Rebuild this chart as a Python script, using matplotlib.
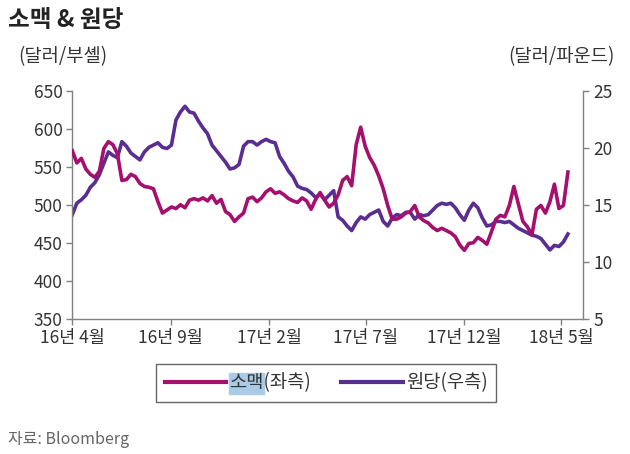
import matplotlib
matplotlib.use("Agg")
import matplotlib.pyplot as plt
from matplotlib.patches import Rectangle
from matplotlib.font_manager import FontProperties
import pandas as pd

plt.rcParams['font.family'] = ['Noto Sans CJK KR', 'DejaVu Sans']

# weekly observations, Apr 2016 - May 2018
dates = pd.date_range("2016-04-01", periods=111, freq="7D")

wheat = [572, 556, 562, 548, 541, 537, 545, 575, 584, 580,
         568, 533, 534, 541, 538, 529, 525, 524, 522, 505,
         490, 494, 498, 496, 501, 497, 507, 509, 507, 510,
         506, 513, 503, 508, 492, 488, 479, 485, 490, 509,
         511, 505, 510, 518, 522, 516, 518, 514, 509, 506,
         504, 510, 506, 495, 508, 517, 507, 498, 503, 514,
         533, 538, 526, 580, 603, 578, 563, 553, 539, 522,
         500, 482, 482, 485, 490, 492, 500, 485, 480, 477,
         471, 467, 470, 467, 464, 459, 448, 441, 450, 451,
         458, 454, 449, 465, 482, 487, 485, 500, 525, 502,
         479, 472, 461, 495, 500, 490, 505, 528, 496, 500,
         544]

sugar = [14.2, 15.2, 15.5, 15.9, 16.6, 17.0, 17.7, 18.7, 19.7, 19.4,
         19.2, 20.6, 20.2, 19.6, 19.3, 19.0, 19.7, 20.1, 20.3, 20.5,
         20.1, 20.0, 20.3, 22.5, 23.2, 23.7, 23.2, 23.1, 22.4, 21.8,
         21.3, 20.3, 19.8, 19.3, 18.8, 18.2, 18.3, 18.6, 20.2, 20.6,
         20.6, 20.3, 20.6, 20.8, 20.6, 20.5, 19.3, 18.7, 18.0, 17.5,
         16.7, 16.5, 16.4, 16.1, 15.7, 16.0, 15.5, 15.9, 16.3, 14.0,
         13.7, 13.2, 12.8, 13.5, 14.0, 13.8, 14.2, 14.4, 14.6, 13.6,
         13.2, 13.9, 14.2, 14.1, 14.4, 14.4, 13.8, 14.2, 14.1, 14.2,
         14.6, 15.0, 15.2, 15.1, 15.2, 14.8, 14.2, 13.7, 14.6, 15.2,
         14.8, 13.9, 13.2, 13.3, 13.6, 13.6, 13.5, 13.6, 13.3, 13.0,
         12.8, 12.6, 12.4, 12.3, 12.1, 11.6, 11.1, 11.5, 11.4, 11.8,
         12.5]

tick_dates = ["2016-04-01", "2016-09-01", "2017-02-01", "2017-07-01", "2017-12-01", "2018-05-01"]
tick_labels = ["16년 4월", "16년 9월", "17년 2월", "17년 7월", "17년 12월", "18년 5월"]
series_labels = ["소맥(좌측)", "원당(우측)"]

wheat_color = "#A5106E"
sugar_color = "#5A2D91"
axis_color = "#808080"
text_color = "#333333"

fig = plt.figure(figsize=(6.3, 4.54), dpi=100)
ax = fig.add_axes([0.1148, 0.2963, 0.8112, 0.5022])
ax2 = ax.twinx()

ax.plot(dates, wheat, color=wheat_color, lw=2.6, zorder=3)
ax2.plot(dates, sugar, color=sugar_color, lw=2.6, zorder=2)
ax.set_zorder(ax2.get_zorder() + 1)
ax.patch.set_visible(False)

ax.set_ylim(350, 650)
ax.set_yticks(range(350, 651, 50))
ax2.set_ylim(5, 25)
ax2.set_yticks(range(5, 26, 5))
ax.set_xlim(pd.Timestamp("2016-04-01"), pd.Timestamp("2018-06-04"))
ax.set_xticks(pd.to_datetime(tick_dates))
ax.set_xticklabels(tick_labels)

for a in (ax, ax2):
    a.spines['top'].set_visible(False)
    for s in ('left', 'right', 'bottom'):
        a.spines[s].set_color(axis_color)
        a.spines[s].set_linewidth(1.0)
    a.tick_params(axis='both', direction='out', length=4, width=1.0,
                  color=axis_color, labelsize=12.5, labelcolor=text_color, pad=3)
ax.spines['right'].set_visible(False)
ax2.spines['left'].set_visible(False)
ax2.spines['bottom'].set_visible(False)

fig.text(8/630, 1 - 20/454, "소맥 & 원당", fontsize=17, fontweight='bold',
         color="#222222", va='center', ha='left')
fig.text(18/630, 1 - 57/454, "(달러/부셸)", fontsize=13.5, color=text_color,
         va='center', ha='left')
fig.text(615/630, 1 - 57/454, "(달러/파운드)", fontsize=13.5, color=text_color,
         va='center', ha='right')
fig.text(8/630, 1 - 439/454, "자료: Bloomberg", fontsize=11.5, color="#666666",
         va='center', ha='left')

h1, = ax.plot([], [], color=wheat_color, lw=3)
h2, = ax.plot([], [], color=sugar_color, lw=3)
leg = fig.legend([h1, h2], series_labels, loc='center',
                 bbox_to_anchor=(326/630, 1 - 383/454), ncol=2, fontsize=13.5,
                 frameon=True, fancybox=False, edgecolor="#404040",
                 facecolor='none', handlelength=3.3,
                 handletextpad=0.15, columnspacing=1.6, borderpad=0.45,
                 borderaxespad=0)
leg.set_zorder(5)
leg.get_frame().set_linewidth(1.0)
for t in leg.get_texts():
    t.set_color(text_color)

# selection highlight behind "소맥" in the legend
fig.canvas.draw()
renderer = fig.canvas.get_renderer()
t0 = leg.get_texts()[0]
bb = t0.get_window_extent(renderer)
fp = FontProperties(family=['Noto Sans CJK KR', 'DejaVu Sans'], size=13.5)
w, h, d = renderer.get_text_width_height_descent(series_labels[0][:2], fp, ismath=False)
fig.patches.append(Rectangle((bb.x0 / fig.bbox.width, bb.y0 / fig.bbox.height),
                             w / fig.bbox.width, bb.height / fig.bbox.height,
                             transform=fig.transFigure, color="#A9CBE6",
                             zorder=0.5))

fig.savefig("out.png", dpi=100)
